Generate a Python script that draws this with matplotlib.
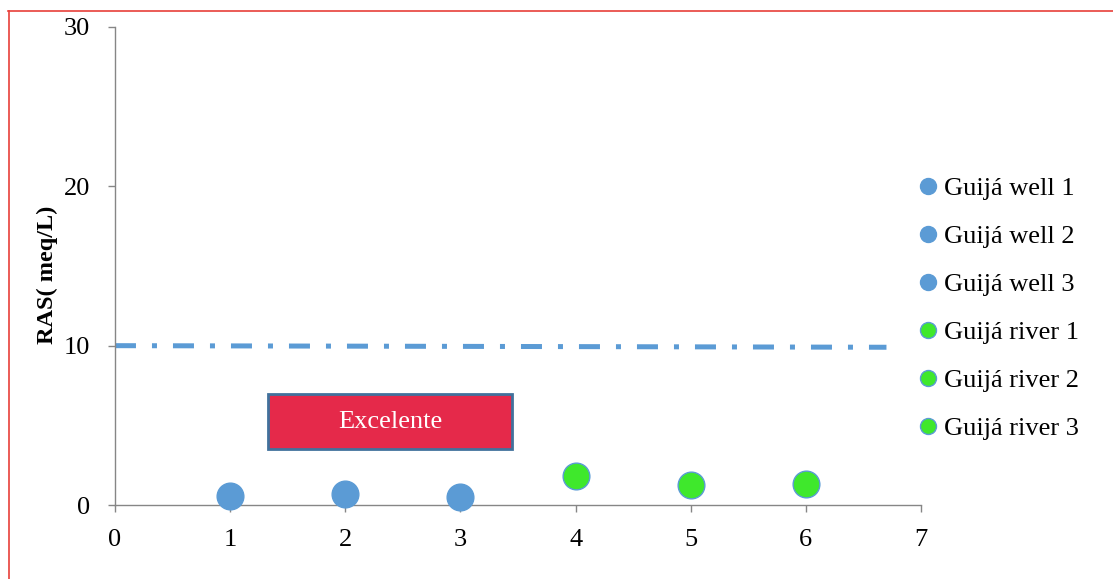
import matplotlib.pyplot as plt
from matplotlib.lines import Line2D
from matplotlib.patches import Rectangle

plt.rcParams['font.family'] = ['Liberation Serif', 'DejaVu Serif']

# sample data
labels = ["Guijá well 1", "Guijá well 2", "Guijá well 3",
          "Guijá river 1", "Guijá river 2", "Guijá river 3"]
x_vals = [1, 2, 3, 4, 5, 6]
ras = [0.56, 0.69, 0.50, 1.82, 1.26, 1.32]
kinds = ["well", "well", "well", "river", "river", "river"]

limit_x = [0, 6.7]
limit_y = [10.0, 9.9]

# box for the "Excelente" class
box_x = [1.33, 3.45]
box_y = [3.5, 6.97]

blue = "#5B9BD5"
green = "#3FE82C"
grey = "#868686"

fig = plt.figure(figsize=(11.13, 5.79), dpi=100)
ax = fig.add_axes([0.1033, 0.1278, 0.7242, 0.8256])

ax.plot(limit_x, limit_y, color=blue, lw=3.6,
        linestyle=(0, (4.2, 3.2, 1, 3.2)), solid_capstyle="butt",
        dash_capstyle="butt", zorder=2)

ax.add_patch(Rectangle((box_x[0], box_y[0]), box_x[1] - box_x[0],
                       box_y[1] - box_y[0], facecolor="#E5294A",
                       edgecolor="#41719C", lw=2, zorder=3))
ax.text(sum(box_x) / 2, sum(box_y) / 2, "Excelente", color="white",
        fontsize=19, ha="center", va="center", zorder=4)

handles = []
for xv, yv, kind, lab in zip(x_vals, ras, kinds, labels):
    fc = blue if kind == "well" else green
    ax.scatter(xv, yv, s=370, color=fc, edgecolors=blue, linewidths=1,
               zorder=5, clip_on=False)
    handles.append(Line2D([], [], marker="o", linestyle="none",
                          markersize=11.5, markerfacecolor=fc,
                          markeredgecolor=blue, markeredgewidth=1, label=lab))

ax.set_xlim(0, 7)
ax.set_ylim(0, 30)
ax.set_xticks(range(0, 8))
ax.set_yticks([0, 10, 20, 30])
ax.set_ylabel("RAS( meq/L)", fontsize=17.5, fontweight="bold")
ax.yaxis.set_label_coords(-0.071, 0.481)

for side in ["top", "right"]:
    ax.spines[side].set_visible(False)
for side in ["left", "bottom"]:
    ax.spines[side].set_color(grey)
    ax.spines[side].set_linewidth(1)
ax.tick_params(axis="both", direction="out", length=5, width=1,
               color=grey, labelsize=19)
ax.tick_params(axis="x", pad=12)
ax.tick_params(axis="y", pad=13)

fig.legend(handles=handles, loc="upper left", bbox_to_anchor=(0.8235, 0.695),
           frameon=False, fontsize=19, handlelength=0.9, handletextpad=0.15,
           labelspacing=0.93, borderpad=0, borderaxespad=0)

# red frame lines around the chart area
fig.add_artist(Line2D([8.5 / 1113, 8.5 / 1113], [0, 1 - 11 / 579],
                      color="#E8403A", lw=1.2, transform=fig.transFigure))
fig.add_artist(Line2D([8 / 1113, 1], [1 - 11 / 579, 1 - 11 / 579],
                      color="#E8403A", lw=1.2, transform=fig.transFigure))

fig.savefig("out.png", dpi=100)
